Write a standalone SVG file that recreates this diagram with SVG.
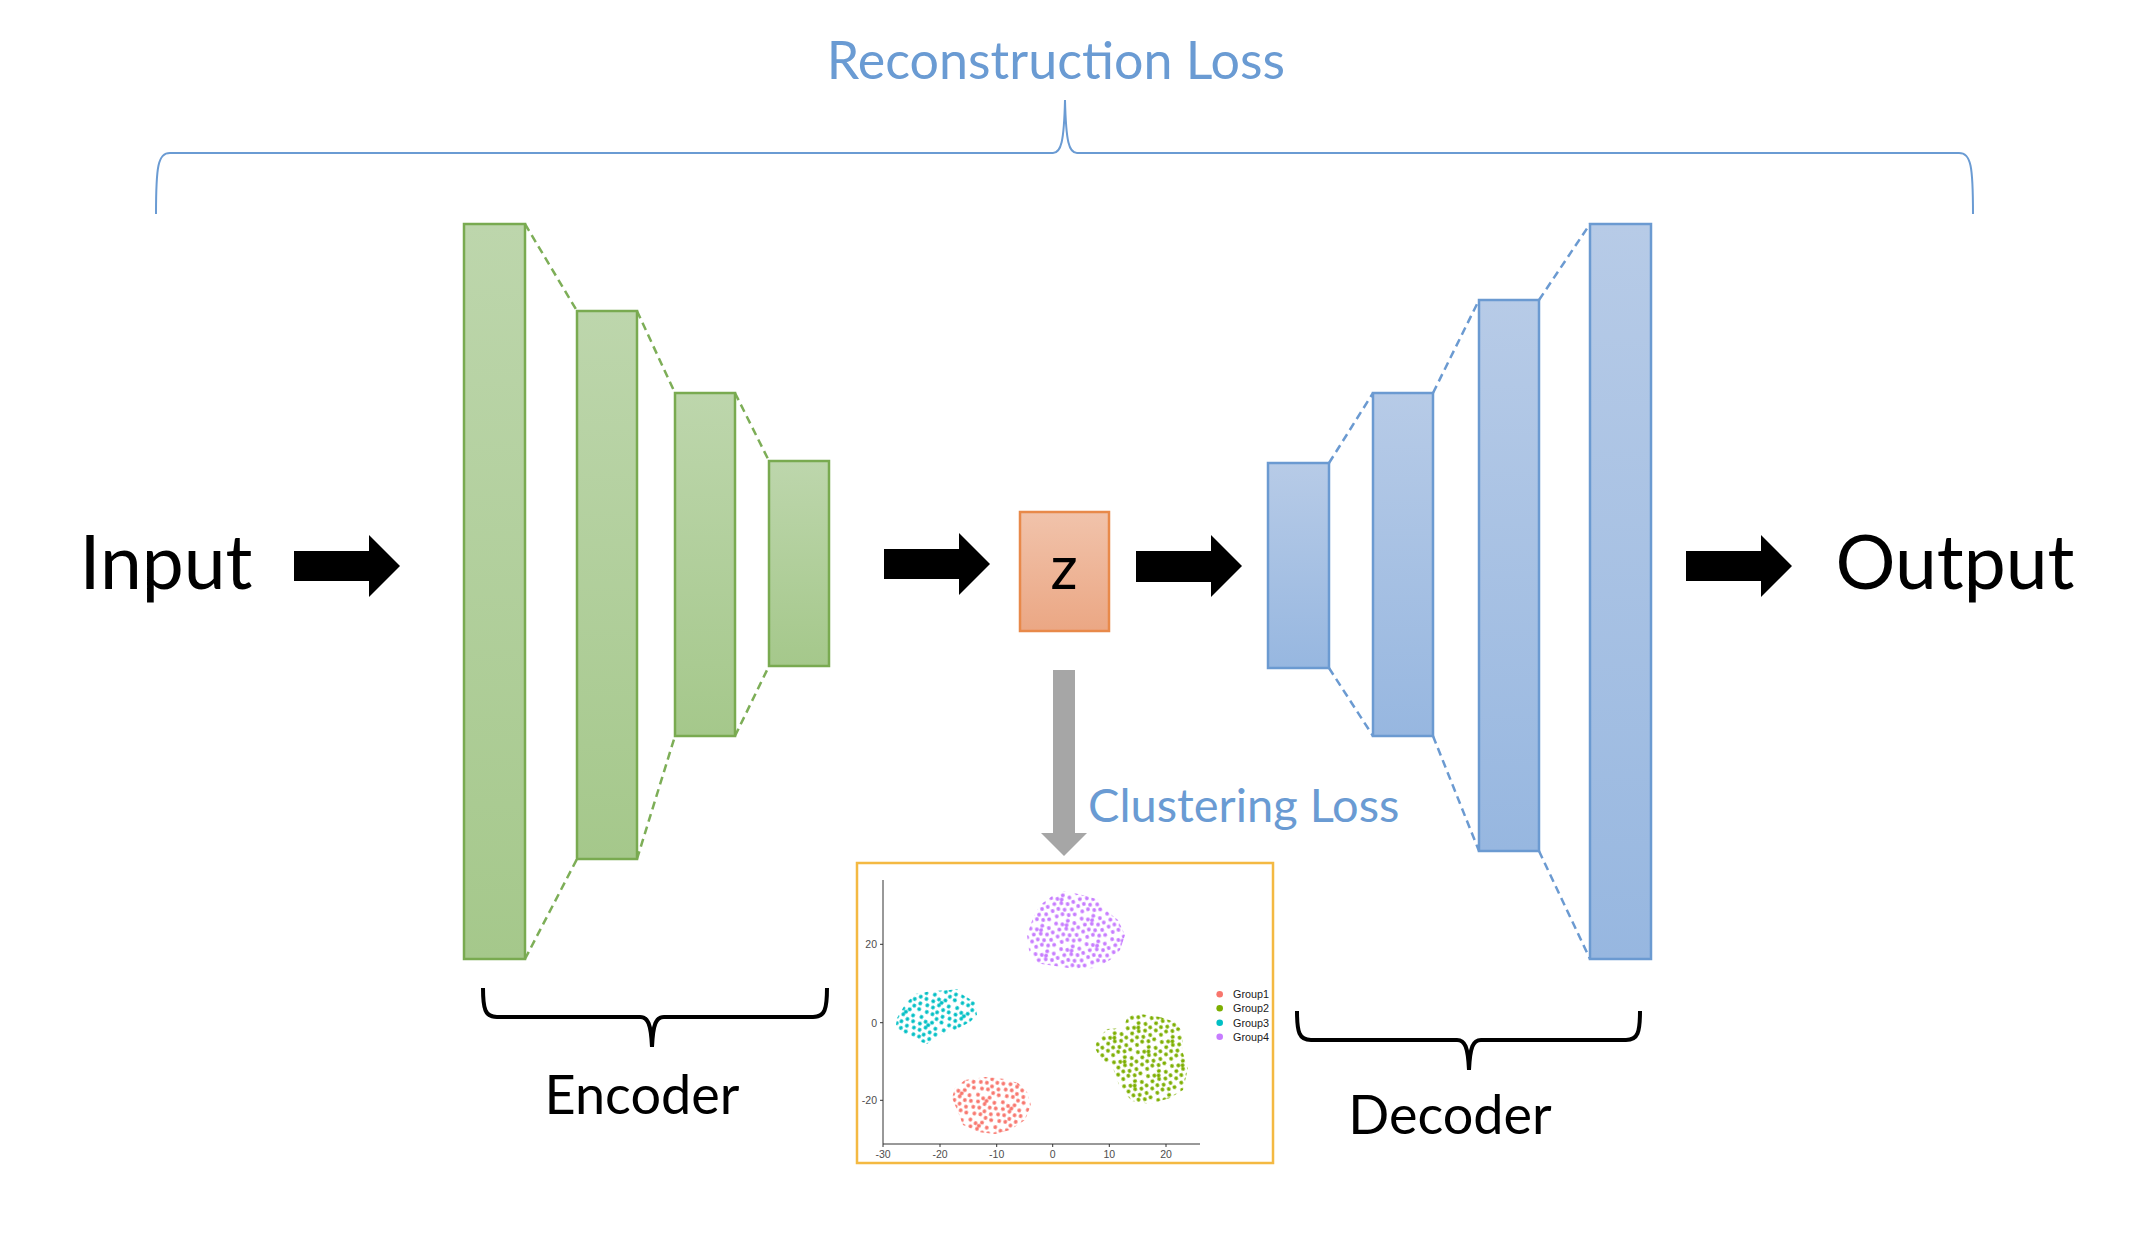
<svg xmlns="http://www.w3.org/2000/svg" xmlns:xlink="http://www.w3.org/1999/xlink" width="2148" height="1240" viewBox="0 0 2148 1240">
<style>
.lbl{font-family:Lato,"Open Sans","Liberation Sans",sans-serif;fill:#000}
.blue{font-family:Lato,"Open Sans","Liberation Sans",sans-serif;fill:#6A9BD3}
.enc{fill:url(#gGreen);stroke:#79AA50;stroke-width:2.5}
.dec{fill:url(#gBlue);stroke:#6B9AD1;stroke-width:2.5}
.dg{stroke:#7DAE57;stroke-width:2.5;stroke-dasharray:8 5;fill:none}
.db{stroke:#6B9AD1;stroke-width:2.5;stroke-dasharray:8 5;fill:none}
.brace{fill:none;stroke:#000;stroke-width:4}
.ax{font-family:"Liberation Sans",Arial,sans-serif;font-size:10.5px;fill:#4D4D4D}
.leg{font-family:"Liberation Sans",Arial,sans-serif;font-size:10.8px;fill:#1A1A1A}
</style>
<defs>
<linearGradient id="gGreen" x1="0" y1="0" x2="0" y2="1"><stop offset="0" stop-color="#BDD6AC"/><stop offset="1" stop-color="#A5C88B"/></linearGradient>
<linearGradient id="gBlue" x1="0" y1="0" x2="0" y2="1"><stop offset="0" stop-color="#B7CBE7"/><stop offset="1" stop-color="#97B7E0"/></linearGradient>
<linearGradient id="gOrange" x1="0" y1="0" x2="0" y2="1"><stop offset="0" stop-color="#F1C3AB"/><stop offset="1" stop-color="#EBA784"/></linearGradient>
<g id="dots">
<circle cx="3" cy="3" r="1.9"/><circle cx="9" cy="5" r="1.9"/><circle cx="15" cy="2.5" r="1.9"/><circle cx="21" cy="6" r="1.9"/>
<circle cx="5" cy="9.5" r="1.9"/><circle cx="12" cy="10" r="1.9"/><circle cx="18" cy="12" r="1.9"/><circle cx="24" cy="11" r="1.9"/>
<circle cx="2" cy="16" r="1.9"/><circle cx="8" cy="15" r="1.9"/><circle cx="14" cy="17" r="1.9"/><circle cx="21" cy="18" r="1.9"/>
<circle cx="5" cy="22" r="1.9"/><circle cx="11" cy="21" r="1.9"/><circle cx="17" cy="23" r="1.9"/><circle cx="23" cy="23.5" r="1.9"/>
<circle cx="13" cy="6.5" r="1.9"/>
</g>
<pattern id="p1" patternUnits="userSpaceOnUse" width="26" height="26" patternTransform="translate(3 5) rotate(17)" fill="#F8766D"><use xlink:href="#dots"/></pattern>
<pattern id="p2" patternUnits="userSpaceOnUse" width="26" height="26" patternTransform="translate(11 2) rotate(-23)" fill="#7CAE00"><use xlink:href="#dots"/></pattern>
<pattern id="p3" patternUnits="userSpaceOnUse" width="26" height="26" patternTransform="translate(7 9) rotate(31)" fill="#00BFC4"><use xlink:href="#dots"/></pattern>
<pattern id="p4" patternUnits="userSpaceOnUse" width="26" height="26" patternTransform="translate(2 13) rotate(-11)" fill="#C77CFF"><use xlink:href="#dots"/></pattern>
</defs>
<rect width="2148" height="1240" fill="#fff"/>

<g id="reconstruction-loss">
<text class="blue" x="1056" y="79" font-size="52" text-anchor="middle">Reconstruction Loss</text>
<path d="M156,214 C156,166 158,153 170,153 L1053,153 C1061,153 1064,142 1065,100 C1066,142 1069,153 1077,153 L1959,153 C1971,153 1973,166 1973,214" fill="none" stroke="#6A9BD3" stroke-width="2"/>
</g>

<g id="input"><text class="lbl" x="166" y="589" font-size="75" text-anchor="middle">Input</text></g>
<g id="output"><text class="lbl" x="1955" y="589" font-size="75" text-anchor="middle">Output</text></g>

<g id="connectors">
<polygon points="294,551 369,551 369,535 400,566 369,597 369,581 294,581" fill="#000"/>
<polygon points="884,549 959,549 959,533 990,564 959,595 959,579 884,579" fill="#000"/>
<polygon points="1136,551 1211,551 1211,535 1242,566 1211,597 1211,582 1136,582" fill="#000"/>
<polygon points="1686,551 1761,551 1761,535 1792,566 1761,597 1761,581 1686,581" fill="#000"/>
<polygon points="1053,670 1075,670 1075,833 1087,833 1064,856 1041,833 1053,833" fill="#A6A6A6"/>
<line class="dg" x1="525" y1="224" x2="577" y2="311"/>
<line class="dg" x1="525" y1="959" x2="577" y2="859"/>
<line class="dg" x1="637" y1="311" x2="675" y2="393"/>
<line class="dg" x1="637" y1="859" x2="675" y2="736"/>
<line class="dg" x1="735" y1="393" x2="769" y2="461"/>
<line class="dg" x1="735" y1="736" x2="769" y2="666"/>
<line class="db" x1="1329" y1="463" x2="1373" y2="393"/>
<line class="db" x1="1329" y1="668" x2="1373" y2="736"/>
<line class="db" x1="1433" y1="393" x2="1479" y2="300"/>
<line class="db" x1="1433" y1="736" x2="1479" y2="851"/>
<line class="db" x1="1539" y1="300" x2="1590" y2="224"/>
<line class="db" x1="1539" y1="851" x2="1590" y2="959"/>
</g>

<g id="encoder">
<rect class="enc" x="464" y="224" width="61" height="735"/>
<rect class="enc" x="577" y="311" width="60" height="548"/>
<rect class="enc" x="675" y="393" width="60" height="343"/>
<rect class="enc" x="769" y="461" width="60" height="205"/>
<path class="brace" d="M483,988 C483,1009 485,1017 497,1017 L640,1017 C648,1017 651,1024 652,1047 C653,1024 656,1017 664,1017 L813,1017 C825,1017 827,1009 827,988"/>
<text class="lbl" x="642" y="1114" font-size="54" text-anchor="middle">Encoder</text>
</g>

<g id="z">
<rect x="1020" y="512" width="89" height="119" fill="url(#gOrange)" stroke="#E8894A" stroke-width="2.5"/>
<text class="lbl" x="1064" y="589" font-size="60" text-anchor="middle">z</text>
</g>

<g id="decoder">
<rect class="dec" x="1268" y="463" width="61" height="205"/>
<rect class="dec" x="1373" y="393" width="60" height="343"/>
<rect class="dec" x="1479" y="300" width="60" height="551"/>
<rect class="dec" x="1590" y="224" width="61" height="735"/>
<path class="brace" d="M1297,1011 C1297,1032 1299,1040 1311,1040 L1457,1040 C1465,1040 1468,1047 1469,1070 C1470,1047 1473,1040 1481,1040 L1626,1040 C1638,1040 1640,1032 1640,1011"/>
<text class="lbl" x="1450" y="1134" font-size="54" text-anchor="middle">Decoder</text>
</g>

<g id="clustering-loss">
<text class="blue" x="1088" y="822" font-size="47">Clustering Loss</text>
</g>

<g id="scatter-plot">
<rect x="857" y="863" width="416" height="300" fill="#fff" stroke="#F4B942" stroke-width="2.5"/>
<path d="M1040,905 L1055,894 1066,891 1082,895 1100,900 1108,912 1118,920 1125,935 1120,950 1110,960 1095,968 1075,969 1055,966 1035,963 1029,950 1027,935 1033,918 Z" fill="url(#p4)"/>
<path d="M897,1018 L906,1003 915,994 932,991 950,990 958,989 963,995 975,1002 977,1015 970,1022 955,1030 940,1035 927,1044 915,1040 900,1032 896,1025 Z" fill="url(#p3)"/>
<path d="M955,1088 L965,1080 985,1077 1005,1079 1018,1083 1027,1092 1031,1105 1025,1120 1010,1130 995,1134 978,1132 963,1125 958,1112 952,1098 Z" fill="url(#p1)"/>
<path d="M1097,1040 L1107,1029 1123,1028 1128,1016 1140,1014 1160,1017 1175,1022 1183,1032 1182,1050 1188,1068 1183,1090 1170,1098 1150,1104 1132,1101 1120,1088 1113,1068 1100,1058 1095,1048 Z" fill="url(#p2)"/>
<path d="M883,880 V1144 H1200" fill="none" stroke="#333" stroke-width="1"/>
<path d="M883,1144 v3 M940,1144 v3 M996.7,1144 v3 M1052.7,1144 v3 M1109.3,1144 v3 M1166,1144 v3 M883,944.3 h-3 M883,1022.7 h-3 M883,1100.3 h-3" stroke="#333" stroke-width="1"/>
<text class="ax" x="883" y="1158" text-anchor="middle">-30</text>
<text class="ax" x="940" y="1158" text-anchor="middle">-20</text>
<text class="ax" x="996.7" y="1158" text-anchor="middle">-10</text>
<text class="ax" x="1052.7" y="1158" text-anchor="middle">0</text>
<text class="ax" x="1109.3" y="1158" text-anchor="middle">10</text>
<text class="ax" x="1166" y="1158" text-anchor="middle">20</text>
<text class="ax" x="877" y="948" text-anchor="end">20</text>
<text class="ax" x="877" y="1026.5" text-anchor="end">0</text>
<text class="ax" x="877" y="1104" text-anchor="end">-20</text>
<circle cx="1219.7" cy="994.3" r="3.3" fill="#F8766D"/>
<circle cx="1219.7" cy="1008.3" r="3.3" fill="#7CAE00"/>
<circle cx="1219.7" cy="1022.7" r="3.3" fill="#00BFC4"/>
<circle cx="1219.7" cy="1036.7" r="3.3" fill="#C77CFF"/>
<text class="leg" x="1233" y="998">Group1</text>
<text class="leg" x="1233" y="1012">Group2</text>
<text class="leg" x="1233" y="1026.5">Group3</text>
<text class="leg" x="1233" y="1040.5">Group4</text>
</g>
</svg>
